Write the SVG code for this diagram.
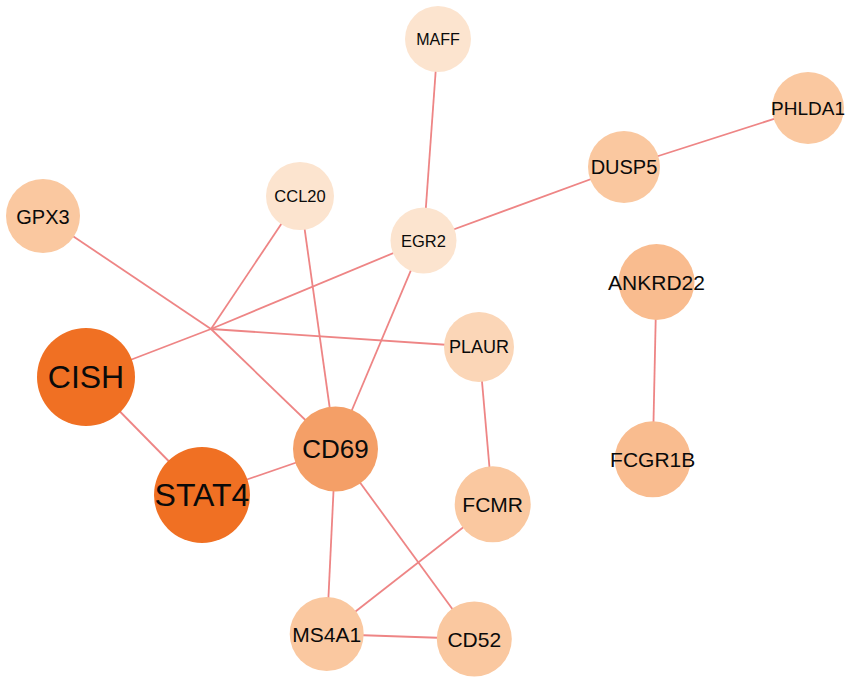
<svg xmlns="http://www.w3.org/2000/svg" width="851" height="684" viewBox="0 0 851 684">
<style>
.e{stroke:#EE8585;stroke-width:1.8;fill:none}
text{font-family:"Liberation Sans",Arial,sans-serif;fill:#0a0a0a;text-anchor:middle;dominant-baseline:central}
.c1{fill:#F07023}
.c2{fill:#F49F67}
.c3{fill:#F9BC8F}
.c4{fill:#FAC8A0}
.c5{fill:#FBD6B7}
.c6{fill:#FCE4CF}
</style>
<rect width="851" height="684" fill="#fff"/>
<g id="edges">
<line class="e" x1="438" y1="39" x2="423.5" y2="240.5"/>
<line class="e" x1="808" y1="108" x2="624" y2="167"/>
<line class="e" x1="624" y1="167" x2="423.5" y2="240.5"/>
<line class="e" x1="423.5" y1="240.5" x2="211" y2="329"/>
<line class="e" x1="211" y1="329" x2="86" y2="377"/>
<line class="e" x1="43" y1="216" x2="211" y2="329"/>
<line class="e" x1="211" y1="329" x2="335.5" y2="449"/>
<line class="e" x1="300" y1="196" x2="211" y2="329"/>
<line class="e" x1="479" y1="347" x2="211" y2="329"/>
<line class="e" x1="300" y1="196" x2="335.5" y2="449"/>
<line class="e" x1="423.5" y1="240.5" x2="335.5" y2="449"/>
<line class="e" x1="86" y1="377" x2="202" y2="495"/>
<line class="e" x1="202" y1="495" x2="335.5" y2="449"/>
<line class="e" x1="479" y1="347" x2="492.7" y2="504.3"/>
<line class="e" x1="335.5" y1="449" x2="326.7" y2="634"/>
<line class="e" x1="335.5" y1="449" x2="474.3" y2="639"/>
<line class="e" x1="492.7" y1="504.3" x2="326.7" y2="634"/>
<line class="e" x1="326.7" y1="634" x2="474.3" y2="639"/>
<line class="e" x1="656.5" y1="282" x2="652.7" y2="459.3"/>
</g>
<g id="MAFF"><circle class="c6" cx="438" cy="39" r="33"/><text x="438" y="39" font-size="16">MAFF</text></g>
<g id="PHLDA1"><circle class="c4" cx="808" cy="108" r="36"/><text x="808" y="108" font-size="19">PHLDA1</text></g>
<g id="DUSP5"><circle class="c4" cx="624" cy="167" r="36"/><text x="624" y="167" font-size="20">DUSP5</text></g>
<g id="GPX3"><circle class="c4" cx="43" cy="216" r="37"/><text x="43" y="217" font-size="20">GPX3</text></g>
<g id="CCL20"><circle class="c6" cx="300" cy="196" r="34"/><text x="300" y="196" font-size="16.5">CCL20</text></g>
<g id="EGR2"><circle class="c6" cx="423.5" cy="240.5" r="33"/><text x="423.5" y="240.5" font-size="16.5">EGR2</text></g>
<g id="ANKRD22"><circle class="c3" cx="656.5" cy="282" r="38"/><text x="656.5" y="282" font-size="21">ANKRD22</text></g>
<g id="PLAUR"><circle class="c5" cx="479" cy="347" r="35"/><text x="479" y="347" font-size="18">PLAUR</text></g>
<g id="CISH"><circle class="c1" cx="86" cy="377" r="49"/><text x="86" y="377" font-size="32">CISH</text></g>
<g id="CD69"><circle class="c2" cx="335.5" cy="449" r="42.5"/><text x="335.5" y="449" font-size="26">CD69</text></g>
<g id="STAT4"><circle class="c1" cx="202" cy="495" r="48"/><text x="202" y="495" font-size="32">STAT4</text></g>
<g id="FCGR1B"><circle class="c3" cx="652.7" cy="459.3" r="38"/><text x="652.7" y="459.3" font-size="21">FCGR1B</text></g>
<g id="FCMR"><circle class="c4" cx="492.7" cy="504.3" r="38"/><text x="492.7" y="504.3" font-size="21">FCMR</text></g>
<g id="MS4A1"><circle class="c4" cx="326.7" cy="634" r="37"/><text x="326.7" y="634" font-size="21">MS4A1</text></g>
<g id="CD52"><circle class="c4" cx="474.3" cy="639" r="37.5"/><text x="474.3" y="639" font-size="21">CD52</text></g>
</svg>
